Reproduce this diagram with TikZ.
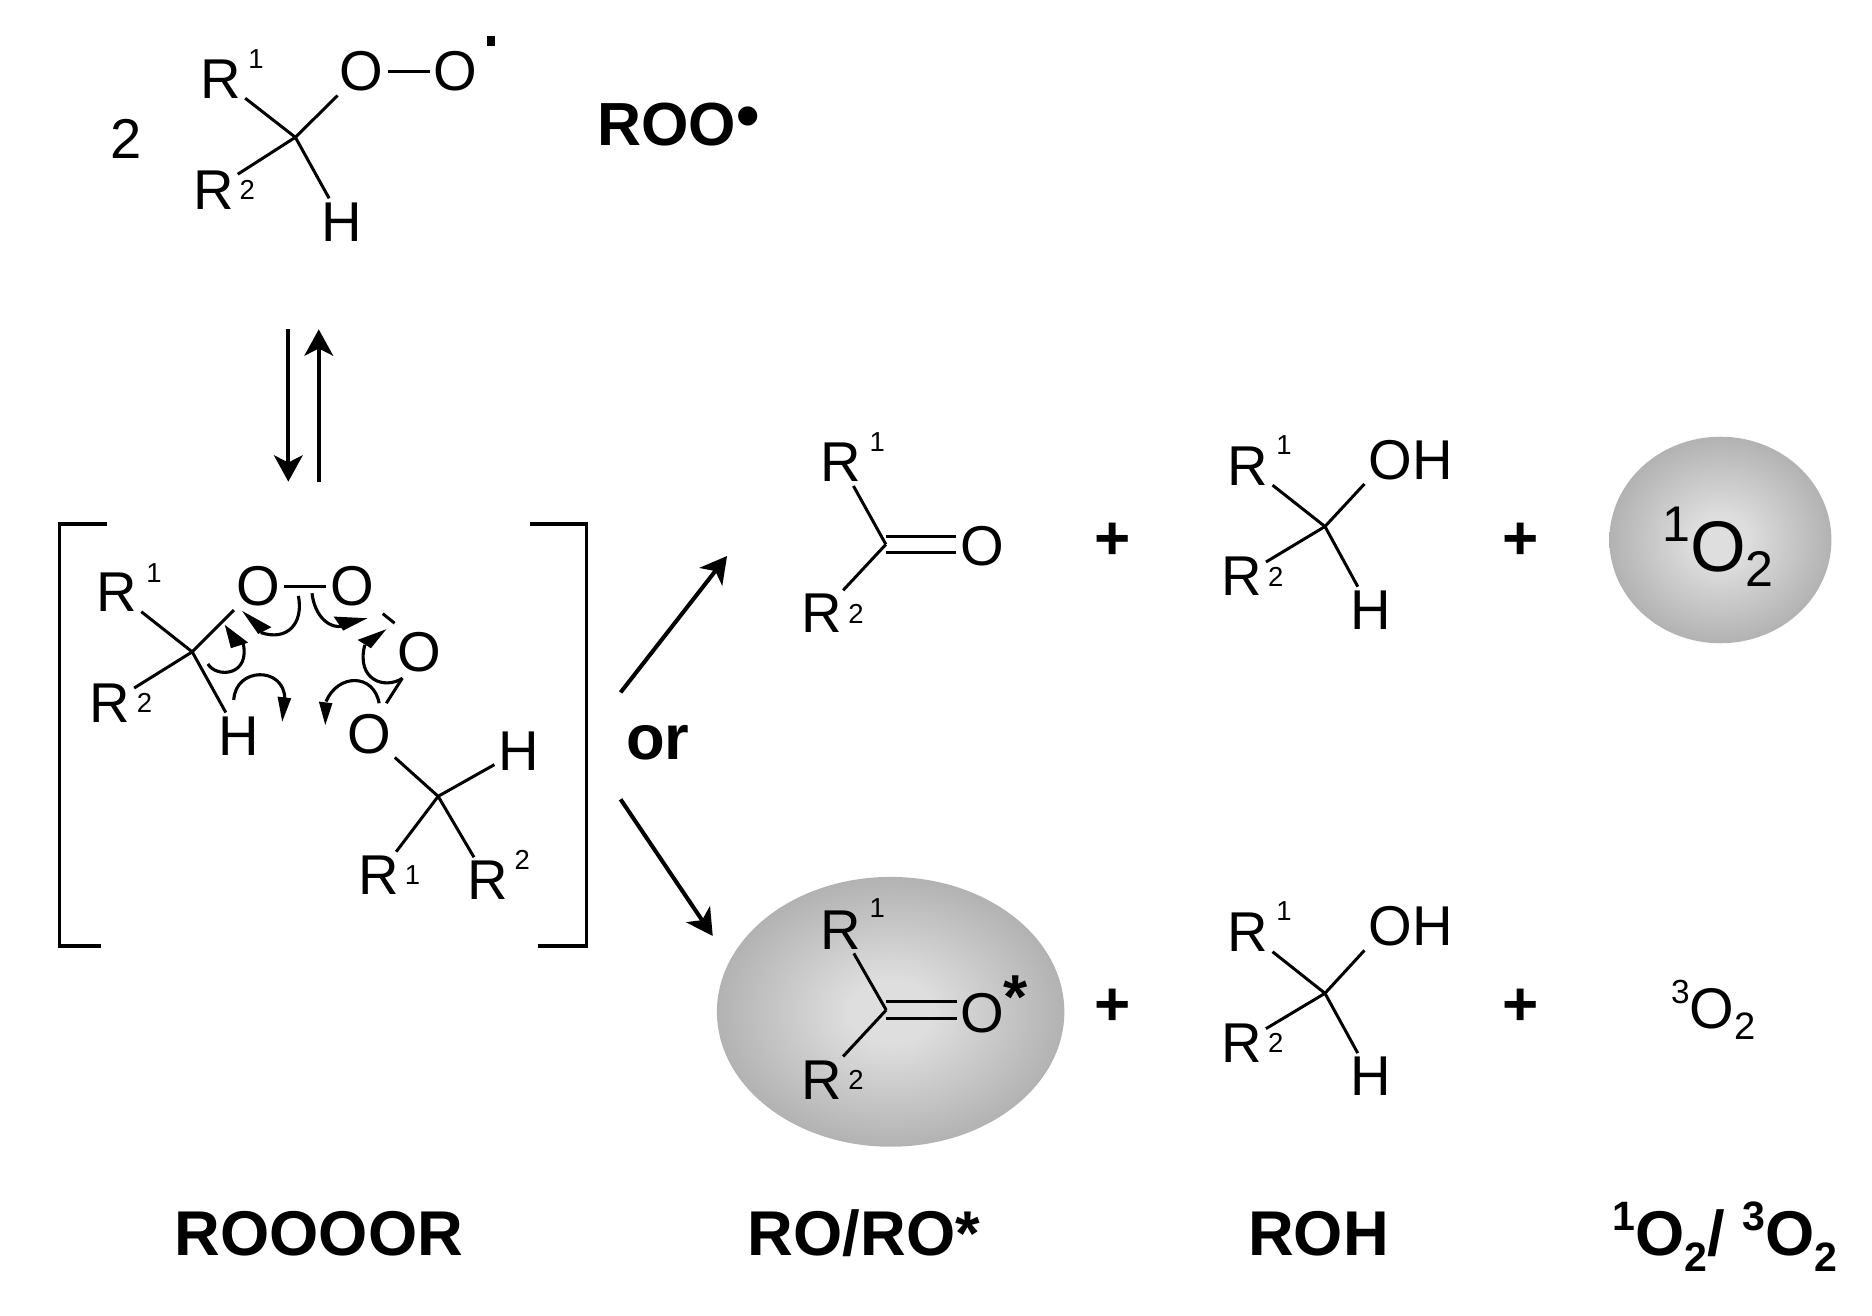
\documentclass[tikz,border=0pt]{standalone}
\usepackage{fontspec}
\setmainfont{Liberation Sans}
\usetikzlibrary{arrows.meta}
\definecolor{sphout}{gray}{.6}
\definecolor{sphin}{gray}{.87}
\pgfdeclareradialshading{sph}{\pgfpointorigin}{color(0bp)=(sphin);color(6bp)=(sphin);color(36bp)=(sphout);color(50bp)=(sphout)}
\newcommand{\atomfs}{\fontsize{23.5pt}{26pt}\selectfont}
\newcommand{\digfs}{\fontsize{11.5pt}{13pt}\selectfont}
\newcommand{\labfs}{\fontsize{26.5pt}{30pt}\selectfont\bfseries}
\newcommand{\labdig}[1]{{\fontsize{17.2pt}{20pt}\selectfont #1}}
\tikzset{
  atom/.style={font=\atomfs,inner sep=1.5pt},
  dig/.style={font=\digfs,inner sep=0pt},
  bond/.style={line width=1.25pt,black},
  lab/.style={font=\labfs,inner sep=0pt,anchor=base west},
  plus/.style={font=\fontsize{26pt}{30pt}\selectfont\bfseries,inner sep=0pt},
  rxn/.style={line width=1.7pt,-{Stealth[length=11pt,width=12pt,inset=3pt]}},
  brk/.style={line width=1.4pt},
  curly/.style={line width=1.3pt},
  wedge/.style={fill=black,draw=none},
}
\begin{document}
\begin{tikzpicture}[x=.5pt,y=-.5pt]
\useasboundingbox (0,0) rectangle (1568,1102);
% spheres
\shade[shading=sph] (1441,452.3) ellipse (93 and 86.5);
\shade[shading=sph] (746,847.5) ellipse (145.5 and 113);
% top molecule
\node[atom] (n2) at (105.4,116) {2};
\coordinate (C0) at (247.4,115);
\node[atom] (R0a) at (185,66.4) {R};
\node[dig] (d0a) at (214.4,49.7) {1};
\node[atom] (O0a) at (303,60) {O};
\node[atom] (O0b) at (381.5,60) {O};
\node[atom] (R0b) at (178.8,159) {R};
\node[dig] (d0b) at (207,159) {2};
\node[atom] (H0) at (286.5,185.7) {H};
\node[fill=black,inner sep=0pt,minimum width=3.4pt,minimum height=4.2pt] (rad) at (411,34) {};
\draw[bond] (C0) -- (R0a);
\draw[bond] (C0) -- (O0a);
\draw[bond] (C0) -- (R0b);
\draw[bond] (C0) -- (H0);
\draw[bond] (O0a) -- (O0b);
\node[lab,font=\fontsize{25.5pt}{28pt}\selectfont\bfseries] (roo) at (500,122) {ROO\raisebox{3pt}{\fontsize{28pt}{28pt}\selectfont •}};
% equilibrium arrows
\coordinate (e1) at (241.5,275.9);
\coordinate (e2) at (241.5,403.4);
\coordinate (e3) at (267,403.4);
\coordinate (e4) at (267,275.9);
\draw[rxn] (e1) -- (e2);
\draw[rxn] (e3) -- (e4);
% brackets
\coordinate (bl1) at (90,439);\coordinate (bl2) at (50,439);\coordinate (bl3) at (50,792.5);\coordinate (bl4) at (85,792.5);
\coordinate (br1) at (444,439);\coordinate (br2) at (491.5,439);\coordinate (br3) at (491.5,792.5);\coordinate (br4) at (451,792.5);
\draw[brk] (bl1) -- (bl2) -- (bl3) -- (bl4);
\draw[brk] (br1) -- (br2) -- (br3) -- (br4);
% tetroxide
\coordinate (C1) at (161,546);
\coordinate (C2) at (367,667);
\node[atom] (R1a) at (98,496.3) {R};
\node[dig] (d1a) at (129,480) {1};
\node[atom] (R1b) at (92,589) {R};
\node[dig] (d1b) at (121,588.5) {2};
\node[atom] (H1) at (200,616.4) {H};
\node[atom] (O1) at (216,491) {O};
\node[atom] (O2) at (295,491) {O};
\node[atom] (O3) at (351.5,546.6) {O};
\node[atom] (O4) at (309,615) {O};
\node[atom] (H2) at (434.5,629) {H};
\node[atom] (R2a) at (317,733) {R};
\node[dig] (d2a) at (345.5,733) {1};
\node[atom] (R2b) at (408.5,737.6) {R};
\node[dig] (d2b) at (437.5,720) {2};
\draw[bond] (C1) -- (R1a);
\draw[bond] (C1) -- (O1);
\draw[bond] (C1) -- (R1b);
\draw[bond] (C1) -- (H1);
\draw[bond] (O1) -- (O2);
\draw[bond] (C2) -- (O4);
\draw[bond] (C2) -- (H2);
\draw[bond] (C2) -- (R2a);
\draw[bond] (C2) -- (R2b);
\coordinate (s1a) at (320.6,514);\coordinate (s1b) at (330.5,522);
\draw[bond] (s1a) -- (s1b);
\coordinate (s2a) at (337,568);\coordinate (s2b) at (323.6,589);
\draw[bond] (s2a) -- (s2b);
% curved electron arrows, in the crop's coordinates
\begin{scope}[shift={(33.5,427.1)},x=.1503pt,y=-.1396pt]
\draw[curly] (720,258) .. controls (735,340) and (690,395) .. (615,368);
\fill[wedge] (563,303) -- (645,352) -- (608,372) -- cycle;
\draw[curly] (758,250) .. controls (765,320) and (810,365) .. (855,345);
\fill[wedge] (912,325) -- (818,320) -- (845,362) -- cycle;
\draw[curly] (468,462) .. controls (490,505) and (590,500) .. (565,395);
\fill[wedge] (515,345) -- (580,398) -- (532,415) -- cycle;
\draw[curly] (540,570) .. controls (545,470) and (680,470) .. (682,565);
\fill[wedge] (675,635) -- (662,560) -- (700,565) -- cycle;
\draw[curly] (945,580) .. controls (930,490) and (830,490) .. (797,575);
\fill[wedge] (795,645) -- (777,575) -- (815,580) -- cycle;
\draw[curly] (1010,505) .. controls (960,540) and (880,510) .. (905,405);
\fill[wedge] (965,358) -- (885,390) -- (922,415) -- cycle;
\end{scope}
% reaction arrows and or
\coordinate (a1) at (519.8,580);\coordinate (a2) at (609,465.7);
\coordinate (a3) at (519.8,669.5);\coordinate (a4) at (597,784);
\draw[rxn] (a1) -- (a2);
\draw[rxn] (a3) -- (a4);
\node[font=\fontsize{26.5pt}{30pt}\selectfont\bfseries,inner sep=0pt] (orx) at (551,622) {or};
% upper products
\coordinate (C3) at (742,456);
\node[atom] (R3a) at (704,387.5) {R};
\node[dig] (d3a) at (734.8,370) {1};
\node[atom] (R3b) at (688,514) {R};
\node[dig] (d3b) at (717,514) {2};
\node[atom] (O5) at (823,457.9) {O};
\draw[bond] (C3) -- (R3a);
\draw[bond] (C3) -- (R3b);
\draw[bond] (C3) ++(0,-7) -- ++(59,0);
\draw[bond] (C3) ++(0,7) -- ++(59,0);
\node[plus] (p1) at (932,453) {+};
\coordinate (C4) at (1109.8,441);
\node[atom] (R4a) at (1045.5,390.3) {R};
\node[dig] (d4a) at (1075.5,372.7) {1};
\node[atom] (OH4) at (1181.5,385.3) {OH};
\node[atom] (R4b) at (1040,483) {R};
\node[dig] (d4b) at (1068.5,483) {2};
\node[atom] (H4) at (1148,511) {H};
\draw[bond] (C4) -- (R4a);
\draw[bond] (C4) -- (OH4.south west);
\draw[bond] (C4) -- (R4b);
\draw[bond] (C4) -- (H4);
\node[plus] (p2) at (1274,453) {+};
\node[font=\fontsize{30pt}{34pt}\selectfont,inner sep=0pt] (so) at (1439,458) {\raisebox{.42em}{\fontsize{21pt}{24pt}\selectfont 1}O\raisebox{-.2em}{\fontsize{21pt}{24pt}\selectfont 2}};
% lower products
\coordinate (C5) at (742.3,846);
\node[atom] (R5a) at (704,779) {R};
\node[dig] (d5a) at (734.8,760.7) {1};
\node[atom] (R5b) at (688,904.5) {R};
\node[dig] (d5b) at (717,904.5) {2};
\node[atom] (O6) at (823,848.7) {O};
\node[font=\fontsize{26pt}{30pt}\selectfont\bfseries,inner sep=0pt,anchor=north] (st) at (851,817) {*};
\draw[bond] (C5) -- (R5a);
\draw[bond] (C5) -- (R5b);
\draw[bond] (C5) ++(0,-7) -- ++(59,0);
\draw[bond] (C5) ++(0,7) -- ++(59,0);
\node[plus] (p3) at (932,844) {+};
\coordinate (C6) at (1109.8,832);
\node[atom] (R6a) at (1045.5,781) {R};
\node[dig] (d6a) at (1075.5,763.5) {1};
\node[atom] (OH6) at (1181.5,776) {OH};
\node[atom] (R6b) at (1040,873.8) {R};
\node[dig] (d6b) at (1068.5,873.8) {2};
\node[atom] (H6) at (1148,901.7) {H};
\draw[bond] (C6) -- (R6a);
\draw[bond] (C6) -- (OH6.south west);
\draw[bond] (C6) -- (R6b);
\draw[bond] (C6) -- (H6);
\node[plus] (p4) at (1274,844) {+};
\node[font=\fontsize{24pt}{28pt}\selectfont,inner sep=0pt] (to) at (1435,846) {\raisebox{.42em}{\fontsize{14pt}{16pt}\selectfont 3}O\raisebox{-.2em}{\fontsize{16pt}{18pt}\selectfont 2}};
% labels
\node[lab] (l1) at (146,1052) {ROOOOR};
\node[lab] (l2) at (626,1052) {RO/RO*};
\node[lab] (l3) at (1045,1052) {ROH};
\node[lab] (l4) at (1350,1052) {\raisebox{.4em}{\labdig{1}}O\raisebox{-.25em}{\labdig{2}}/ \raisebox{.4em}{\labdig{3}}O\raisebox{-.25em}{\labdig{2}}};
\end{tikzpicture}
\end{document}
